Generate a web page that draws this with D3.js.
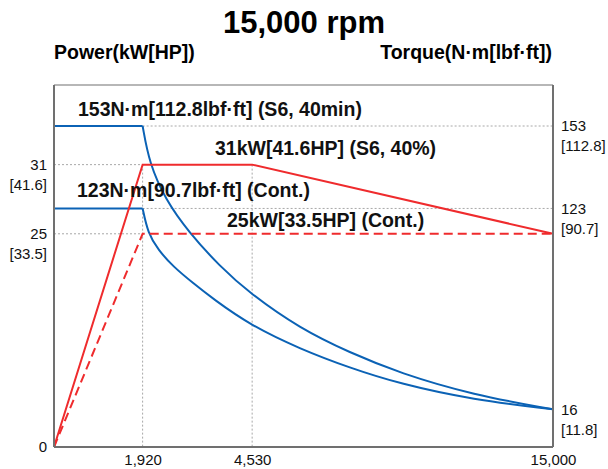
<!DOCTYPE html>
<html><head><meta charset="utf-8">
<script src="https://cdn.jsdelivr.net/npm/d3@7"></script>
<style>
html,body{margin:0;padding:0;background:#fff;}
svg{display:block;font-family:"Liberation Sans",Arial,sans-serif;}
</style></head>
<body><svg id="c" width="608" height="469"></svg>
<script>
// ---- data ----
const title = "15,000 rpm";
const leftTitle = "Power(kW[HP])";
const rightTitle = "Torque(N·m[lbf·ft])";
const rpmTicks = [0, 1920, 4530, 15000];
const rpmLabels = ["", "1,920", "4,530", "15,000"];
const powerTicks = [0, 25, 31];
const powerLabels = ["0", "25", "31"];
const hpLabels = ["", "[33.5]", "[41.6]"];
const torqueTicks = [16, 123, 153];
const torqueLabels = ["16", "123", "153"];
const lbfLabels = ["[11.8]", "[90.7]", "[112.8]"];
// power curves (rpm, kW)
const powerS6Rpm = [0, 1920, 4530, 15000];
const powerS6 = [0, 31, 31, 25];
const powerContRpm = [0, 1920, 15000];
const powerCont = [0, 25, 25];
// torque curves (rpm, N·m)
const torqueS6Rpm = [0, 1920, 2077, 2468, 3006, 3761, 4475, 6189, 7928, 9667, 12217, 15000];
const torqueS6 = [153, 153, 139.5, 126.1, 110.7, 92.1, 77.8, 59.1, 46.2, 35.3, 23.7, 16];
const torqueContRpm = [0, 1920, 2046, 2291, 2649, 3125, 3601, 4475, 6189, 7928, 9667, 12217, 15000];
const torqueCont = [123, 123, 109.8, 100.9, 92, 83.2, 74.8, 61.0, 48.2, 38.1, 29.6, 21.1, 16];
const annotations = [
  "153N·m[112.8lbf·ft] (S6, 40min)",
  "31kW[41.6HP] (S6, 40%)",
  "123N·m[90.7lbf·ft] (Cont.)",
  "25kW[33.5HP] (Cont.)"
];

// ---- layout ----
const W = 608, H = 469;
const m = {l: 54, r: 55, t: 85, b: 22};
const pw = W - m.l - m.r, ph = H - m.t - m.b;
const svg = d3.select("#c");
const g = svg.append("g").attr("transform", `translate(${m.l},${m.t})`);

const x = d3.scaleLinear().domain(rpmTicks).range([0, 0.1776, 0.3971, 1].map(f => f * pw));
const yP = d3.scaleLinear().domain(powerTicks).range([1, 0.411, 0.220].map(f => f * ph));
const yT = d3.scaleLinear().domain([0].concat(torqueTicks)).range([1, 0.896, 0.341, 0.1133].map(f => f * ph));

const BLUE = "#0b62b5", RED = "#ef2b2d", GRID = "#a8a8a8", AXIS = "#707070";

// grid lines
const grid = g.append("g").attr("stroke", GRID).attr("stroke-width", 1).attr("stroke-dasharray", "2,2");
[25, 31].forEach(v => grid.append("line").attr("x1", 0).attr("x2", x(1920)).attr("y1", yP(v)).attr("y2", yP(v)));
[123, 153].forEach(v => grid.append("line").attr("x1", x(1920)).attr("x2", pw).attr("y1", yT(v)).attr("y2", yT(v)));
[1920, 4530].forEach(v => grid.append("line").attr("x1", x(v)).attr("x2", x(v)).attr("y1", yP(31)).attr("y2", ph));

// lines
const lineP = d3.line().x(d => x(d[0])).y(d => yP(d[1]));
const lineFlat = d3.line().x(d => x(d[0])).y(d => yT(d[1]));
const lineT = d3.line().x(d => x(d[0])).y(d => yT(d[1])).curve(d3.curveBasis);

function torqueCurve(rpm, vals) {
  g.append("path").attr("d", lineFlat(d3.zip(rpm.slice(0, 2), vals.slice(0, 2))))
    .attr("fill", "none").attr("stroke", BLUE).attr("stroke-width", 2);
  g.append("path").attr("d", lineT(d3.zip(rpm.slice(1), vals.slice(1))))
    .attr("fill", "none").attr("stroke", BLUE).attr("stroke-width", 2);
}
torqueCurve(torqueS6Rpm, torqueS6);
torqueCurve(torqueContRpm, torqueCont);

g.append("path").attr("d", lineP(d3.zip(powerContRpm, powerCont)))
  .attr("fill", "none").attr("stroke", RED).attr("stroke-width", 2).attr("stroke-dasharray", "9,5");
g.append("path").attr("d", lineP(d3.zip(powerS6Rpm, powerS6)))
  .attr("fill", "none").attr("stroke", RED).attr("stroke-width", 2);

// frame
g.append("line").attr("x1", 0).attr("x2", pw).attr("y1", 0).attr("y2", 0).attr("stroke", AXIS).attr("stroke-width", 1.2);
g.append("line").attr("x1", 0).attr("x2", 0).attr("y1", 0).attr("y2", ph).attr("stroke", AXIS).attr("stroke-width", 2);
g.append("line").attr("x1", pw).attr("x2", pw).attr("y1", 0).attr("y2", ph).attr("stroke", AXIS).attr("stroke-width", 2);
g.append("line").attr("x1", 0).attr("x2", pw).attr("y1", ph).attr("y2", ph).attr("stroke", AXIS).attr("stroke-width", 2);

// axes
const TF = 15;
const ax = g.append("g").attr("transform", `translate(0,${ph})`)
  .call(d3.axisBottom(x).tickValues(rpmTicks).tickSize(0).tickPadding(7).tickFormat((d, i) => rpmLabels[i]));
const ayl = g.append("g")
  .call(d3.axisLeft(yP).tickValues(powerTicks).tickSize(0).tickPadding(7).tickFormat((d, i) => powerLabels[i]));
ayl.selectAll(".tick").append("text").attr("fill", "#000").attr("x", -7).attr("dy", "1.65em")
  .text((d, i) => hpLabels[i]);
const ayr = g.append("g").attr("transform", `translate(${pw},0)`)
  .call(d3.axisRight(yT).tickValues(torqueTicks).tickSize(0).tickPadding(8).tickFormat((d, i) => torqueLabels[i]));
ayr.selectAll(".tick").append("text").attr("fill", "#000").attr("x", 8).attr("dy", "1.65em")
  .text((d, i) => lbfLabels[i]);
[ax, ayl, ayr].forEach(a => {
  a.select(".domain").remove();
  a.selectAll("text").attr("font-size", TF).attr("font-family", "Liberation Sans, Arial, sans-serif").attr("fill", "#111");
});
ayl.selectAll(".tick text").attr("text-anchor", "end");

// titles
svg.append("text").attr("x", W / 2).attr("y", 33).attr("text-anchor", "middle")
  .attr("font-size", 31).attr("font-weight", "bold").text(title);
svg.append("text").attr("x", m.l).attr("y", 59).attr("font-size", 19.5).attr("font-weight", "bold").text(leftTitle);
svg.append("text").attr("x", W - m.r - 1).attr("y", 59).attr("text-anchor", "end").attr("font-size", 19.5).attr("font-weight", "bold").text(rightTitle);

// annotations
const annPos = [[78, 116], [215, 155], [77, 197], [227, 227]];
annotations.forEach((t, i) => {
  svg.append("text").attr("x", annPos[i][0]).attr("y", annPos[i][1])
    .attr("font-size", 19.5).attr("font-weight", "bold").attr("fill", "#111").text(t);
});
</script></body></html>
